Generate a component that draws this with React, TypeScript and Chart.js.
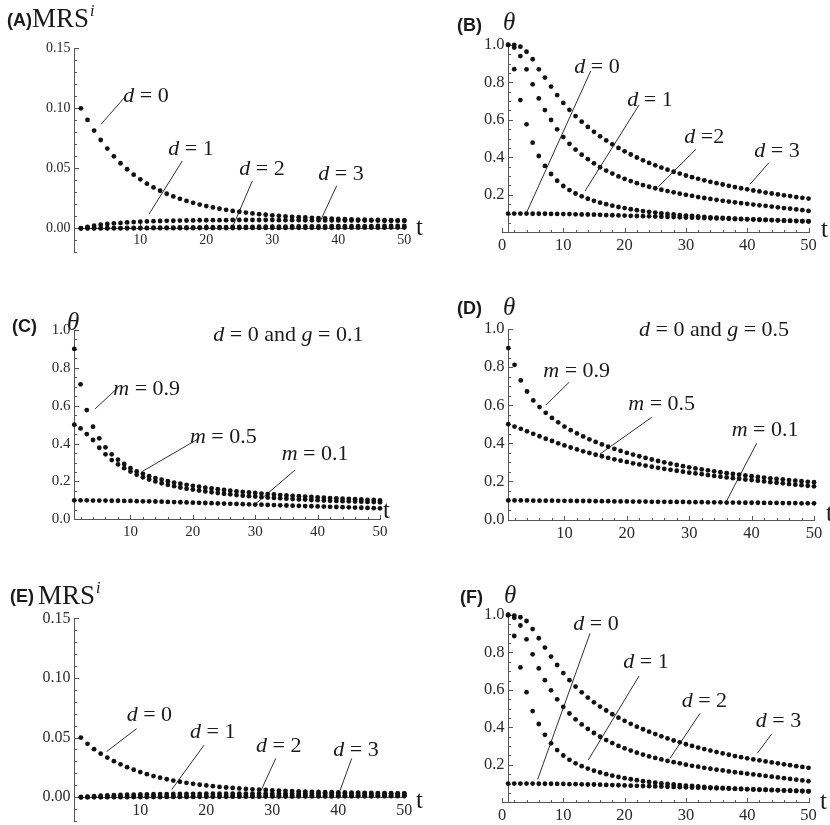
import React, { useEffect, useRef } from "react";
import { Chart, registerables } from "chart.js";
Chart.register(...registerables);

const SERIF = '"Liberation Serif", "Times New Roman", serif';
const SANS = '"Liberation Sans", Arial, sans-serif';
const DOT = "#111";
const AXIS = "#555";
const TICK_TXT = "#2a2a2a";
const INK = "#1a1a1a";

// time steps (categories)
const T = Array.from({ length: 50 }, (_, i) => i + 1);

// ---------- Panel A : MRS^i ----------
const A_d0 = [0.1, 0.0903, 0.0814, 0.0736, 0.0664, 0.06, 0.0542, 0.0492, 0.0447, 0.0408,
  0.0372, 0.0341, 0.0313, 0.0288, 0.0266, 0.0246, 0.0228, 0.0212, 0.0198, 0.0185,
  0.0174, 0.0163, 0.0154, 0.0145, 0.0138, 0.0131, 0.0124, 0.0118, 0.0113, 0.0108,
  0.0104, 0.01, 0.0096, 0.0093, 0.009, 0.0087, 0.0085, 0.0082, 0.008, 0.0078,
  0.0076, 0.0075, 0.0073, 0.0072, 0.007, 0.0069, 0.0068, 0.0067, 0.0066, 0.0065];
const A_d1 = [0, 0.0012, 0.0022, 0.003, 0.0036, 0.0041, 0.0045, 0.0049, 0.0052, 0.0055,
  0.0057, 0.0059, 0.0061, 0.0062, 0.0063, 0.0064, 0.0065, 0.0066, 0.0067, 0.0067,
  0.0068, 0.0068, 0.0068, 0.0069, 0.0069, 0.0069, 0.0069, 0.0069, 0.0069, 0.0069,
  0.0068, 0.0068, 0.0068, 0.0068, 0.0067, 0.0067, 0.0067, 0.0066, 0.0066, 0.0066,
  0.0065, 0.0065, 0.0065, 0.0064, 0.0064, 0.0064, 0.0063, 0.0063, 0.0063, 0.0062];
const A_d2 = [0, 0, 0, 0.0001, 0.0001, 0.0002, 0.0002, 0.0003, 0.0003, 0.0004,
  0.0004, 0.0005, 0.0005, 0.0006, 0.0006, 0.0007, 0.0007, 0.0008, 0.0008, 0.0009,
  0.0009, 0.001, 0.001, 0.0011, 0.0011, 0.0012, 0.0012, 0.0013, 0.0013, 0.0014,
  0.0014, 0.0014, 0.0015, 0.0015, 0.0015, 0.0016, 0.0016, 0.0016, 0.0017, 0.0017,
  0.0017, 0.0018, 0.0018, 0.0018, 0.0018, 0.0019, 0.0019, 0.0019, 0.0019, 0.002];
const A_d3 = [0, 0, 0, 0, 0, 0, 0, 0, 0, 0,
  0.0001, 0.0001, 0.0001, 0.0001, 0.0001, 0.0001, 0.0001, 0.0001, 0.0002, 0.0002,
  0.0002, 0.0002, 0.0002, 0.0002, 0.0002, 0.0003, 0.0003, 0.0003, 0.0003, 0.0003,
  0.0003, 0.0003, 0.0004, 0.0004, 0.0004, 0.0004, 0.0004, 0.0004, 0.0004, 0.0005,
  0.0005, 0.0005, 0.0005, 0.0005, 0.0005, 0.0005, 0.0005, 0.0006, 0.0006, 0.0006];

// ---------- Panel B : theta ----------
const B_d0 = [0.1, 0.1, 0.1, 0.1, 0.099, 0.099, 0.099, 0.098, 0.098, 0.097,
  0.097, 0.096, 0.095, 0.095, 0.094, 0.093, 0.092, 0.091, 0.09, 0.089,
  0.088, 0.087, 0.086, 0.085, 0.084, 0.083, 0.082, 0.081, 0.08, 0.079,
  0.078, 0.077, 0.076, 0.075, 0.074, 0.073, 0.072, 0.071, 0.07, 0.069,
  0.068, 0.067, 0.066, 0.065, 0.064, 0.063, 0.062, 0.061, 0.06, 0.059];
const B_d1 = [1.0, 0.87, 0.705, 0.576, 0.478, 0.407, 0.354, 0.311, 0.275, 0.247,
  0.225, 0.207, 0.192, 0.179, 0.168, 0.158, 0.15, 0.142, 0.135, 0.129,
  0.123, 0.118, 0.113, 0.109, 0.105, 0.101, 0.098, 0.095, 0.092, 0.089,
  0.087, 0.085, 0.082, 0.08, 0.078, 0.077, 0.075, 0.073, 0.072, 0.07,
  0.069, 0.067, 0.066, 0.065, 0.064, 0.062, 0.061, 0.06, 0.059, 0.058];
const B_d2 = [1.0, 0.985, 0.94, 0.869, 0.789, 0.714, 0.652, 0.599, 0.549, 0.508,
  0.472, 0.441, 0.414, 0.39, 0.368, 0.347, 0.329, 0.313, 0.298, 0.285,
  0.273, 0.262, 0.252, 0.243, 0.235, 0.227, 0.22, 0.213, 0.206, 0.2,
  0.194, 0.188, 0.183, 0.178, 0.173, 0.168, 0.164, 0.16, 0.156, 0.152,
  0.148, 0.144, 0.141, 0.137, 0.133, 0.129, 0.126, 0.122, 0.118, 0.114];
const B_d3 = [1.0, 1.0, 0.99, 0.963, 0.923, 0.869, 0.825, 0.777, 0.732, 0.69,
  0.653, 0.62, 0.59, 0.562, 0.536, 0.512, 0.49, 0.469, 0.45, 0.432,
  0.415, 0.399, 0.384, 0.37, 0.357, 0.345, 0.334, 0.323, 0.313, 0.303,
  0.294, 0.285, 0.277, 0.269, 0.262, 0.255, 0.248, 0.241, 0.235, 0.229,
  0.223, 0.218, 0.212, 0.207, 0.202, 0.197, 0.193, 0.188, 0.184, 0.18];

// ---------- Panel C : theta, d = 0, g = 0.1 ----------
const C_m09 = [0.9, 0.713, 0.577, 0.489, 0.428, 0.38, 0.343, 0.315, 0.292, 0.27,
  0.253, 0.24, 0.228, 0.218, 0.209, 0.201, 0.194, 0.188, 0.182, 0.177,
  0.172, 0.167, 0.163, 0.159, 0.155, 0.151, 0.148, 0.145, 0.142, 0.139,
  0.136, 0.133, 0.131, 0.128, 0.126, 0.124, 0.122, 0.12, 0.118, 0.116,
  0.114, 0.112, 0.111, 0.109, 0.108, 0.106, 0.105, 0.103, 0.102, 0.1];
const C_m05 = [0.5, 0.48, 0.45, 0.419, 0.378, 0.343, 0.313, 0.29, 0.27, 0.252,
  0.236, 0.222, 0.21, 0.2, 0.19, 0.182, 0.175, 0.168, 0.162, 0.157,
  0.152, 0.147, 0.143, 0.139, 0.135, 0.132, 0.128, 0.125, 0.122, 0.12,
  0.117, 0.115, 0.113, 0.111, 0.109, 0.107, 0.105, 0.104, 0.102, 0.101,
  0.099, 0.098, 0.097, 0.096, 0.095, 0.094, 0.093, 0.092, 0.091, 0.09];
const C_m01 = [0.1, 0.1, 0.1, 0.099, 0.099, 0.099, 0.098, 0.098, 0.097, 0.097,
  0.096, 0.095, 0.095, 0.094, 0.093, 0.092, 0.091, 0.09, 0.089, 0.088,
  0.087, 0.086, 0.085, 0.084, 0.083, 0.082, 0.081, 0.08, 0.079, 0.078,
  0.077, 0.076, 0.075, 0.074, 0.073, 0.072, 0.071, 0.07, 0.069, 0.068,
  0.067, 0.066, 0.065, 0.064, 0.063, 0.062, 0.061, 0.06, 0.059, 0.058];

// ---------- Panel D : theta, d = 0, g = 0.5 ----------
const D_m09 = [0.9, 0.812, 0.73, 0.672, 0.625, 0.59, 0.56, 0.533, 0.51, 0.488,
  0.469, 0.452, 0.436, 0.421, 0.407, 0.394, 0.382, 0.371, 0.36, 0.35,
  0.341, 0.332, 0.323, 0.315, 0.307, 0.3, 0.293, 0.286, 0.28, 0.274,
  0.268, 0.263, 0.258, 0.253, 0.248, 0.243, 0.239, 0.235, 0.231, 0.227,
  0.223, 0.22, 0.216, 0.213, 0.21, 0.207, 0.204, 0.201, 0.198, 0.196];
const D_m05 = [0.5, 0.488, 0.476, 0.463, 0.45, 0.437, 0.424, 0.412, 0.4, 0.389,
  0.378, 0.368, 0.358, 0.349, 0.34, 0.332, 0.324, 0.316, 0.309, 0.302,
  0.295, 0.289, 0.283, 0.277, 0.271, 0.266, 0.261, 0.256, 0.251, 0.246,
  0.242, 0.238, 0.233, 0.229, 0.225, 0.221, 0.217, 0.214, 0.21, 0.207,
  0.203, 0.2, 0.196, 0.193, 0.19, 0.186, 0.183, 0.18, 0.177, 0.174];
const D_m01 = [0.1, 0.1, 0.1, 0.1, 0.099, 0.099, 0.099, 0.099, 0.098, 0.098,
  0.098, 0.097, 0.097, 0.097, 0.096, 0.096, 0.096, 0.095, 0.095, 0.095,
  0.094, 0.094, 0.094, 0.093, 0.093, 0.093, 0.092, 0.092, 0.092, 0.091,
  0.091, 0.091, 0.09, 0.09, 0.09, 0.089, 0.089, 0.089, 0.088, 0.088,
  0.088, 0.087, 0.087, 0.087, 0.086, 0.086, 0.086, 0.085, 0.085, 0.085];

// ---------- Panel E : MRS^i ----------
const E_d0 = [0.05, 0.0447, 0.0402, 0.0365, 0.0332, 0.0302, 0.0275, 0.0251, 0.023, 0.021,
  0.0193, 0.0177, 0.0163, 0.015, 0.0139, 0.0129, 0.012, 0.0112, 0.0104, 0.0098,
  0.0092, 0.0086, 0.0081, 0.0077, 0.0073, 0.0069, 0.0066, 0.0063, 0.006, 0.0057,
  0.0055, 0.0053, 0.0051, 0.0049, 0.0047, 0.0045, 0.0044, 0.0042, 0.0041, 0.004,
  0.0039, 0.0038, 0.0037, 0.0036, 0.0035, 0.0034, 0.0033, 0.0033, 0.0032, 0.0031];
const E_d1 = [0, 0.0005, 0.0009, 0.0012, 0.0015, 0.0017, 0.0019, 0.0021, 0.0022, 0.0023,
  0.0024, 0.0025, 0.0026, 0.0026, 0.0027, 0.0027, 0.0028, 0.0028, 0.0028, 0.0029,
  0.0029, 0.0029, 0.0029, 0.003, 0.003, 0.003, 0.003, 0.003, 0.003, 0.003,
  0.003, 0.003, 0.003, 0.003, 0.003, 0.003, 0.003, 0.003, 0.003, 0.003,
  0.003, 0.003, 0.0029, 0.0029, 0.0029, 0.0029, 0.0029, 0.0029, 0.0029, 0.0029];
const E_d2 = [0, 0, 0.0001, 0.0001, 0.0002, 0.0002, 0.0003, 0.0003, 0.0004, 0.0004,
  0.0005, 0.0005, 0.0006, 0.0006, 0.0007, 0.0007, 0.0008, 0.0008, 0.0009, 0.0009,
  0.001, 0.001, 0.001, 0.0011, 0.0011, 0.0011, 0.0012, 0.0012, 0.0012, 0.0013,
  0.0013, 0.0013, 0.0013, 0.0014, 0.0014, 0.0014, 0.0014, 0.0015, 0.0015, 0.0015,
  0.0015, 0.0015, 0.0016, 0.0016, 0.0016, 0.0016, 0.0016, 0.0016, 0.0017, 0.0017];
const E_d3 = [0, 0, 0, 0, 0, 0, 0, 0, 0.0001, 0.0001,
  0.0001, 0.0001, 0.0001, 0.0002, 0.0002, 0.0002, 0.0002, 0.0002, 0.0003, 0.0003,
  0.0003, 0.0003, 0.0003, 0.0004, 0.0004, 0.0004, 0.0004, 0.0004, 0.0005, 0.0005,
  0.0005, 0.0005, 0.0005, 0.0006, 0.0006, 0.0006, 0.0006, 0.0006, 0.0006, 0.0007,
  0.0007, 0.0007, 0.0007, 0.0007, 0.0007, 0.0008, 0.0008, 0.0008, 0.0008, 0.0008];

// ---------- Panel F : theta ----------
const F_d0 = [0.1, 0.1, 0.1, 0.1, 0.1, 0.099, 0.099, 0.099, 0.098, 0.098,
  0.097, 0.097, 0.096, 0.095, 0.095, 0.094, 0.093, 0.092, 0.091, 0.09,
  0.089, 0.088, 0.087, 0.086, 0.085, 0.084, 0.083, 0.082, 0.081, 0.08,
  0.079, 0.078, 0.077, 0.076, 0.075, 0.074, 0.073, 0.072, 0.071, 0.07,
  0.069, 0.068, 0.067, 0.066, 0.065, 0.064, 0.063, 0.062, 0.061, 0.06];
const F_d1 = [1.0, 0.888, 0.72, 0.588, 0.487, 0.418, 0.36, 0.315, 0.279, 0.25,
  0.227, 0.208, 0.193, 0.18, 0.169, 0.159, 0.15, 0.142, 0.135, 0.129,
  0.123, 0.118, 0.113, 0.109, 0.105, 0.101, 0.098, 0.095, 0.092, 0.089,
  0.087, 0.085, 0.082, 0.08, 0.078, 0.077, 0.075, 0.073, 0.072, 0.07,
  0.069, 0.067, 0.066, 0.065, 0.064, 0.062, 0.061, 0.06, 0.059, 0.058];
const F_d2 = [1.0, 0.985, 0.944, 0.87, 0.79, 0.715, 0.652, 0.598, 0.55, 0.51,
  0.474, 0.443, 0.416, 0.392, 0.37, 0.35, 0.332, 0.316, 0.301, 0.288,
  0.276, 0.265, 0.255, 0.245, 0.237, 0.229, 0.221, 0.214, 0.208, 0.201,
  0.195, 0.19, 0.184, 0.179, 0.174, 0.17, 0.165, 0.161, 0.157, 0.153,
  0.149, 0.145, 0.141, 0.137, 0.133, 0.129, 0.125, 0.121, 0.117, 0.113];
const F_d3 = [1.0, 0.997, 0.988, 0.968, 0.925, 0.876, 0.826, 0.778, 0.733, 0.69,
  0.652, 0.618, 0.587, 0.559, 0.534, 0.511, 0.49, 0.47, 0.452, 0.435,
  0.419, 0.404, 0.39, 0.377, 0.364, 0.352, 0.341, 0.33, 0.32, 0.31,
  0.301, 0.292, 0.284, 0.276, 0.268, 0.261, 0.254, 0.247, 0.241, 0.235,
  0.229, 0.224, 0.218, 0.213, 0.208, 0.203, 0.198, 0.193, 0.189, 0.184];

// ---------- tick labels ----------
const mrsTickValues = [0, 0.05, 0.1, 0.15];
const mrsTickLabels = ["0.00", "0.05", "0.10", "0.15"];
const thetaTickValues = [0.2, 0.4, 0.6, 0.8, 1.0];
const thetaTickLabels = ["0.2", "0.4", "0.6", "0.8", "1.0"];
const thetaTickValues0 = [0, 0.2, 0.4, 0.6, 0.8, 1.0];
const thetaTickLabels0 = ["0.0", "0.2", "0.4", "0.6", "0.8", "1.0"];
const tTickValues = [10, 20, 30, 40, 50];
const tTickLabels = ["10", "20", "30", "40", "50"];
const tTickValues0 = [0, 10, 20, 30, 40, 50];
const tTickLabels0 = ["0", "10", "20", "30", "40", "50"];

interface Ann { text: string; x: number; y: number; line?: number[] }
interface Txt { text: string; x: number; y: number; font: string; sup?: string }
interface PanelCfg {
  id: string; left: number; top: number; w: number; h: number;
  pad: { left: number; right: number; top: number; bottom: number };
  xMin: number; xMax: number; yMin: number; yMax: number; yAxisAt: number;
  xTickStart: number; xMinor: number; xMajor: number; yMinor: number; yMajor: number;
  xTickValues: number[]; xTickLabels: string[]; yTickValues: number[]; yTickLabels: string[];
  tickFont: number; annFont: number;
  series: number[][]; anns: Ann[]; texts: Txt[];
}

const HDR = `bold 18px ${SANS}`;
const BIG = `25px ${SERIF}`;
const MRS = `27px ${SERIF}`;
const THETA = `italic 25px ${SERIF}`;

const mrsBase = {
  xMin: 0, xMax: 50, yMin: -0.02, yMax: 0.15, yAxisAt: 0,
  xTickStart: 0, xMinor: 2, xMajor: 10, yMinor: 0.01, yMajor: 0.05,
  xTickValues: tTickValues, xTickLabels: tTickLabels,
  yTickValues: mrsTickValues, yTickLabels: mrsTickLabels,
  tickFont: 14, annFont: 22,
};
const thetaBase = {
  xMin: 0, xMax: 50, yMin: 0, yMax: 1, yAxisAt: 1,
  xTickStart: 0, xMinor: 2, xMajor: 10, yMinor: 0.05, yMajor: 0.2,
  xTickValues: tTickValues0, xTickLabels: tTickLabels0,
  yTickValues: thetaTickValues, yTickLabels: thetaTickLabels,
  tickFont: 16.5, annFont: 22,
};
const mBase = {
  xMin: 1, xMax: 50, yMin: 0, yMax: 1, yAxisAt: 1,
  xTickStart: 2, xMinor: 2, xMajor: 10, yMinor: 0.05, yMajor: 0.2,
  xTickValues: tTickValues, xTickLabels: tTickLabels,
  yTickValues: thetaTickValues0, yTickLabels: thetaTickLabels0,
  tickFont: 15, annFont: 22,
};

const PANELS: PanelCfg[] = [
  {
    ...mrsBase, id: "A", left: 0, top: 0, w: 440, h: 275, tickFont: 14,
    pad: { left: 74.3, right: 35.7, top: 48.3, bottom: 22.7 },
    series: [A_d0, A_d1, A_d2, A_d3],
    anns: [
      { text: "d = 0", x: 7.42, y: 0.1055, line: [4.05, 0.0867, 7.58, 0.1088] },
      { text: "d = 1", x: 14.24, y: 0.0611, line: [11.32, 0.0117, 16.36, 0.0561] },
      { text: "d = 2", x: 25.0, y: 0.0444, line: [23.94, 0.0005, 26.97, 0.0394] },
      { text: "d = 3", x: 36.97, y: 0.0403, line: [37.23, 0.0055, 39.76, 0.0355] },
    ],
    texts: [
      { text: "(A)", x: 7, y: 26, font: HDR },
      { text: "MRS", x: 32, y: 27, font: MRS, sup: "i" },
      { text: "t", x: 416, y: 235, font: BIG },
    ],
  },
  {
    ...thetaBase, id: "B", left: 415, top: 0, w: 415, h: 275,
    pad: { left: 87, right: 21.5, top: 44.8, bottom: 42.7 },
    series: [B_d0, B_d1, B_d2, B_d3],
    anns: [
      { text: "d = 0", x: 11.79, y: 0.85, line: [4.03, 0.107, 14.47, 0.86] },
      { text: "d = 1", x: 20.44, y: 0.674, line: [13.54, 0.22, 22.35, 0.679] },
      { text: "d =2", x: 29.74, y: 0.478, line: [25.5, 0.243, 31.65, 0.443] },
      { text: "d = 3", x: 41.16, y: 0.4, line: [40.46, 0.256, 43.56, 0.372] },
    ],
    texts: [
      { text: "(B)", x: 42, y: 31, font: HDR },
      { text: "θ", x: 88, y: 30, font: THETA },
      { text: "t", x: 406, y: 237, font: BIG },
    ],
  },
  {
    ...mBase, id: "C", left: 0, top: 275, w: 415, h: 275, tickFont: 15,
    pad: { left: 74.3, right: 35, top: 55, bottom: 30.7 },
    series: [C_m09, C_m05, C_m01],
    anns: [
      { text: "m = 0.9", x: 7.25, y: 0.657, line: [4.32, 0.583, 8.05, 0.697] },
      { text: "m = 0.5", x: 19.54, y: 0.401, line: [11.8, 0.251, 21.03, 0.428] },
      { text: "m = 0.1", x: 34.24, y: 0.313, line: [29.96, 0.079, 36.37, 0.26] },
      { text: "d = 0 and g = 0.1", x: 23.28, y: 0.943 },
    ],
    texts: [
      { text: "(C)", x: 12, y: 57, font: HDR },
      { text: "θ", x: 67, y: 55, font: THETA },
      { text: "t", x: 383, y: 243, font: BIG },
    ],
  },
  {
    ...mBase, id: "D", left: 415, top: 275, w: 430, h: 275, tickFont: 16.5,
    pad: { left: 93.3, right: 31, top: 54, bottom: 30.5 },
    series: [D_m09, D_m05, D_m01],
    anns: [
      { text: "m = 0.9", x: 6.61, y: 0.75, line: [7.04, 0.601, 10.73, 0.72] },
      { text: "m = 0.5", x: 20.23, y: 0.575, line: [15.7, 0.344, 23.98, 0.536] },
      { text: "m = 0.1", x: 36.8, y: 0.438, line: [35.84, 0.088, 40.81, 0.4] },
      { text: "d = 0 and g = 0.5", x: 21.95, y: 0.963 },
    ],
    texts: [
      { text: "(D)", x: 42, y: 39, font: HDR },
      { text: "θ", x: 88, y: 40, font: THETA },
      { text: "t", x: 411, y: 246, font: BIG },
    ],
  },
  {
    ...mrsBase, id: "E", left: 0, top: 550, w: 440, h: 275, tickFont: 16,
    pad: { left: 74.3, right: 35.7, top: 68.3, bottom: 2.7 },
    series: [E_d0, E_d1, E_d2, E_d3],
    anns: [
      { text: "d = 0", x: 7.94, y: 0.0638, line: [4.91, 0.0383, 9.45, 0.0575] },
      { text: "d = 1", x: 17.53, y: 0.05, line: [14.76, 0.0063, 19.65, 0.0436] },
      { text: "d = 2", x: 27.53, y: 0.038, line: [28.29, 0.0055, 30.52, 0.0325] },
      { text: "d = 3", x: 39.24, y: 0.0347, line: [40.26, 0.0055, 42.03, 0.0325] },
    ],
    texts: [
      { text: "(E)", x: 10, y: 52, font: HDR },
      { text: "MRS", x: 38, y: 54, font: MRS, sup: "i" },
      { text: "t", x: 416, y: 258, font: BIG },
    ],
  },
  {
    ...thetaBase, id: "F", left: 415, top: 550, w: 415, h: 275,
    pad: { left: 87, right: 21.5, top: 65, bottom: 22.7 },
    series: [F_d0, F_d1, F_d2, F_d3],
    anns: [
      { text: "d = 0", x: 11.63, y: 0.92, line: [5.82, 0.123, 14.36, 0.902] },
      { text: "d = 1", x: 19.79, y: 0.715, line: [14.08, 0.226, 22.35, 0.674] },
      { text: "d = 2", x: 29.31, y: 0.51, line: [27.41, 0.235, 32.3, 0.475] },
      { text: "d = 3", x: 41.39, y: 0.404, line: [41.65, 0.262, 44.0, 0.365] },
    ],
    texts: [
      { text: "(F)", x: 45, y: 53, font: HDR },
      { text: "θ", x: 89, y: 53, font: THETA },
      { text: "t", x: 405, y: 259, font: BIG },
    ],
  },
];

function drawRich(ctx: CanvasRenderingContext2D, text: string, x: number, y: number, size: number) {
  const parts = text.split(/(\b[dmg]\b)/).filter((p) => p.length > 0);
  let cx = x;
  for (const p of parts) {
    const it = /^[dmg]$/.test(p);
    ctx.font = `${it ? "italic " : ""}${size}px ${SERIF}`;
    ctx.fillText(p, cx, y);
    cx += ctx.measureText(p).width;
  }
}

function makeDecor(cfg: PanelCfg) {
  return {
    id: "decor" + cfg.id,
    beforeDatasetsDraw(chart: any) {
      const ctx: CanvasRenderingContext2D = chart.ctx;
      const xs = chart.scales.x, ys = chart.scales.y;
      const px = (v: number) => xs.getPixelForValue(v);
      const py = (v: number) => ys.getPixelForValue(v);
      const crisp = (v: number) => Math.round(v) + 0.5;
      const ax = crisp(px(cfg.yAxisAt));
      const ay = crisp(py(0));
      ctx.save();
      ctx.strokeStyle = AXIS;
      ctx.lineWidth = 1;
      ctx.beginPath();
      ctx.moveTo(Math.round(px(cfg.xMin)), ay);
      ctx.lineTo(Math.round(px(cfg.xMax)) + 1, ay);
      ctx.moveTo(ax, Math.round(py(cfg.yMin)) + 1);
      ctx.lineTo(ax, Math.round(py(cfg.yMax)));
      const nx = Math.round((cfg.xMax - cfg.xTickStart) / cfg.xMinor);
      for (let i = 0; i <= nx; i++) {
        const v = cfg.xTickStart + i * cfg.xMinor;
        const r = v / cfg.xMajor;
        const major = Math.abs(r - Math.round(r)) < 1e-6;
        const x = crisp(px(v));
        ctx.moveTo(x, ay);
        ctx.lineTo(x, ay - (major ? 4.5 : 2.5));
      }
      const ny = Math.round((cfg.yMax - cfg.yMin) / cfg.yMinor);
      for (let i = 0; i <= ny; i++) {
        const v = cfg.yMin + i * cfg.yMinor;
        const r = v / cfg.yMajor;
        const major = Math.abs(r - Math.round(r)) < 1e-6;
        const y = crisp(py(v));
        ctx.moveTo(ax, y);
        ctx.lineTo(ax + (major ? 4.5 : 2.5), y);
      }
      ctx.stroke();
      ctx.fillStyle = TICK_TXT;
      ctx.font = `${cfg.tickFont}px ${SERIF}`;
      ctx.textAlign = "center";
      ctx.textBaseline = "top";
      cfg.xTickValues.forEach((v, i) => ctx.fillText(cfg.xTickLabels[i], px(v), ay + 5));
      ctx.textAlign = "right";
      ctx.textBaseline = "middle";
      cfg.yTickValues.forEach((v, i) => ctx.fillText(cfg.yTickLabels[i], ax - 4, py(v)));
      ctx.restore();
    },
    afterDatasetsDraw(chart: any) {
      const ctx: CanvasRenderingContext2D = chart.ctx;
      const xs = chart.scales.x, ys = chart.scales.y;
      const px = (v: number) => xs.getPixelForValue(v);
      const py = (v: number) => ys.getPixelForValue(v);
      ctx.save();
      ctx.strokeStyle = INK;
      ctx.fillStyle = INK;
      ctx.lineWidth = 0.9;
      ctx.textAlign = "left";
      ctx.textBaseline = "alphabetic";
      for (const a of cfg.anns) {
        if (a.line) {
          ctx.beginPath();
          ctx.moveTo(px(a.line[0]), py(a.line[1]));
          ctx.lineTo(px(a.line[2]), py(a.line[3]));
          ctx.stroke();
        }
        drawRich(ctx, a.text, px(a.x), py(a.y), cfg.annFont);
      }
      for (const t of cfg.texts) {
        ctx.font = t.font;
        ctx.fillText(t.text, t.x, t.y);
        if (t.sup) {
          const w = ctx.measureText(t.text).width;
          ctx.font = `italic 16px ${SERIF}`;
          ctx.fillText(t.sup, t.x + w + 1, t.y - 11);
        }
      }
      ctx.restore();
    },
  };
}

function Panel({ cfg }: { cfg: PanelCfg }) {
  const ref = useRef<HTMLCanvasElement>(null);
  useEffect(() => {
    const chart = new Chart(ref.current as HTMLCanvasElement, {
      type: "scatter",
      data: {
        datasets: cfg.series.map((s) => ({
          data: s.map((v, i) => ({ x: T[i], y: v })),
          pointRadius: 2.4,
          pointBackgroundColor: DOT,
          pointBorderWidth: 0,
          pointBorderColor: DOT,
          showLine: false,
          clip: false as any,
        })),
      },
      options: {
        animation: false,
        responsive: false,
        devicePixelRatio: 1,
        events: [],
        layout: { padding: cfg.pad },
        plugins: { legend: { display: false }, tooltip: { enabled: false }, title: { display: false } },
        scales: {
          x: { type: "linear", min: cfg.xMin, max: cfg.xMax, display: false },
          y: { type: "linear", min: cfg.yMin, max: cfg.yMax, display: false },
        },
      },
      plugins: [makeDecor(cfg) as any],
    });
    return () => chart.destroy();
  }, [cfg]);
  return (
    <canvas
      ref={ref}
      width={cfg.w}
      height={cfg.h}
      style={{ position: "absolute", left: cfg.left, top: cfg.top, width: cfg.w, height: cfg.h }}
    />
  );
}

export default function App() {
  return (
    <div style={{ position: "absolute", left: 0, top: 0, width: 830, height: 825, overflow: "hidden", background: "#fff" }}>
      {PANELS.map((p) => (
        <Panel key={p.id} cfg={p} />
      ))}
    </div>
  );
}
